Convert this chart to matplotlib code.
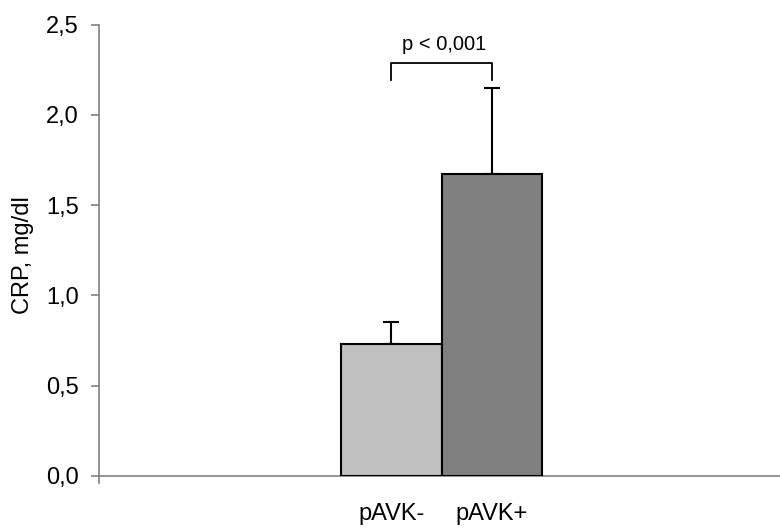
import matplotlib
matplotlib.use("Agg")
import matplotlib.pyplot as plt
from matplotlib.ticker import FuncFormatter

plt.rcParams['font.family'] = ['Liberation Sans', 'DejaVu Sans']

# Data
categories = ["pAVK-", "pAVK+"]
means = [0.73, 1.67]
sd_upper = [0.12, 0.48]
bar_colors = ["#c0c0c0", "#808080"]
p_label = "p < 0,001"
y_ticks = [0.0, 0.5, 1.0, 1.5, 2.0, 2.5]

W, H = 780, 528
fig = plt.figure(figsize=(W / 100, H / 100), dpi=100)
left, right, bottom, top = 99, 780, 528 - 475.7, 528 - 24.7
ax = fig.add_axes([left / W, bottom / H, (right - left) / W, (top - bottom) / H])

xs = [-0.5, 0.5]
ax.bar(xs, means, width=1.0, color=bar_colors, edgecolor="black", linewidth=1.5, zorder=3)
ax.errorbar(xs, means, yerr=[[0, 0], sd_upper], fmt="none", ecolor="black",
            elinewidth=1.5, capsize=5.8, capthick=1.5, zorder=2)

# Significance bracket
y_br, y_leg = 2.29, 2.195
ax.plot([xs[0], xs[0], xs[1], xs[1]], [y_leg, y_br, y_br, y_leg], color="black", lw=1.3,
        clip_on=False)
ax.text(0.03, y_br + 0.045, p_label, ha="center", va="bottom", fontsize=14.5)

ax.set_xlim(-3.41, 3.37)
ax.set_ylim(0, 2.5)
ax.set_yticks(y_ticks)
ax.yaxis.set_major_formatter(FuncFormatter(lambda v, _: f"{v:.1f}".replace(".", ",")))
ax.set_xticks(xs)
ax.set_xticklabels(categories)
ax.tick_params(axis="x", length=0, pad=20, labelsize=17)
ax.tick_params(axis="y", length=6, width=1.2, color="#7f7f7f", pad=8.5, labelsize=17,
               direction="out")

for s in ("top", "right"):
    ax.spines[s].set_visible(False)
for s in ("left", "bottom"):
    ax.spines[s].set_color("#7f7f7f")
    ax.spines[s].set_linewidth(1.2)
ax.spines["left"].set_bounds(-0.04, 2.5)

ax.set_ylabel("CRP, mg/dl", fontsize=17)
ax.yaxis.set_label_coords(-0.096, 0.49)

fig.savefig("out.png", dpi=100)
